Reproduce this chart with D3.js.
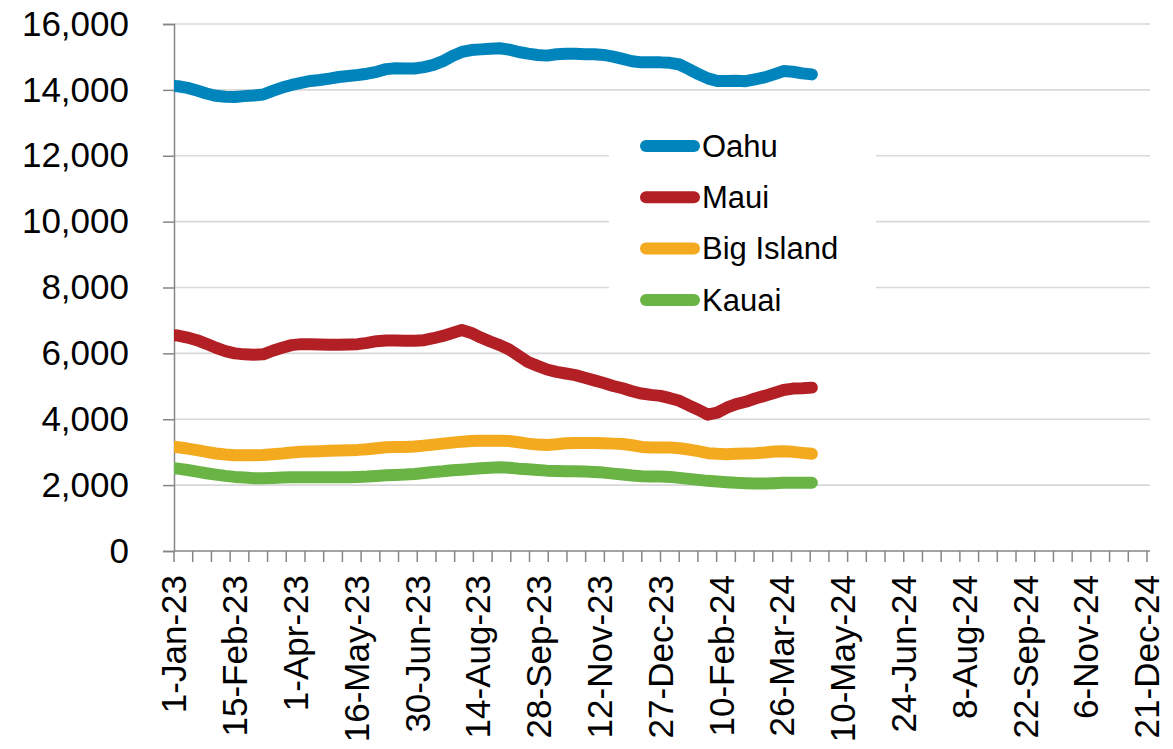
<!DOCTYPE html>
<html>
<head>
<meta charset="utf-8">
<script src="https://cdn.jsdelivr.net/npm/d3@7"></script>
<style>
  html, body { margin: 0; padding: 0; background: #fff; }
  svg { display: block; font-family: "Liberation Sans", Arial, sans-serif; }
</style>
</head>
<body>
<svg id="chart" width="1173" height="749"></svg>
<script>
// Weekly observations, first week ending 28-Dec-22
const firstWeek = "2022-12-28";
const weekCount = 69;

const seriesNames = ["Oahu", "Maui", "Big Island", "Kauai"];
const seriesColors = ["#0084bc", "#b22026", "#f4aa1e", "#6ab446"];

const oahu = [14130, 14110, 14060, 13980, 13890, 13820, 13790, 13785, 13810, 13830,
  13860, 13970, 14070, 14150, 14210, 14270, 14300, 14340, 14390, 14420,
  14450, 14490, 14550, 14630, 14655, 14650, 14650, 14690, 14760, 14870,
  15030, 15150, 15210, 15230, 15250, 15265, 15220, 15150, 15100, 15060,
  15040, 15080, 15100, 15100, 15085, 15080, 15060, 15010, 14940, 14870,
  14835, 14835, 14835, 14820, 14770, 14630, 14480, 14350, 14270, 14270,
  14275, 14265, 14320, 14380, 14470, 14570, 14550, 14500, 14470];

const maui = [6570, 6540, 6480, 6400, 6290, 6170, 6070, 6000, 5970, 5960,
  5970, 6080, 6170, 6250, 6280, 6280, 6270, 6260, 6260, 6270,
  6280, 6320, 6370, 6390, 6390, 6380, 6380, 6400, 6460, 6530,
  6620, 6710, 6620, 6480, 6360, 6250, 6120, 5930, 5740, 5620,
  5510, 5440, 5390, 5340, 5260, 5180, 5100, 5010, 4940, 4850,
  4780, 4740, 4710, 4640, 4560, 4420, 4290, 4140, 4200, 4350,
  4460, 4530, 4630, 4710, 4800, 4890, 4930, 4940, 4960];

const bigIsland = [3180, 3150, 3110, 3060, 3010, 2960, 2930, 2910, 2905, 2910,
  2915, 2940, 2960, 2990, 3010, 3020, 3030, 3040, 3050, 3060,
  3070, 3090, 3120, 3150, 3160, 3160, 3170, 3200, 3230, 3260,
  3290, 3320, 3340, 3345, 3350, 3350, 3340, 3300, 3260, 3230,
  3220, 3240, 3270, 3280, 3280, 3280, 3270, 3260, 3250, 3210,
  3160, 3140, 3140, 3140, 3120, 3080, 3030, 2970, 2950, 2940,
  2950, 2960, 2970, 2990, 3020, 3030, 3010, 2980, 2950];

const kauai = [2530, 2500, 2460, 2410, 2360, 2320, 2280, 2250, 2230, 2210,
  2210, 2220, 2230, 2240, 2240, 2240, 2240, 2240, 2240, 2240,
  2250, 2260, 2280, 2300, 2310, 2320, 2340, 2370, 2400, 2420,
  2450, 2470, 2490, 2510, 2530, 2540, 2530, 2500, 2480, 2460,
  2440, 2430, 2420, 2420, 2410, 2400, 2380, 2350, 2320, 2290,
  2270, 2260, 2260, 2250, 2220, 2190, 2160, 2130, 2110, 2090,
  2070, 2060, 2050, 2050, 2060, 2070, 2070, 2070, 2070];

// Axis settings
const xStart = "2023-01-01";
const xEnd = "2024-12-21";
const labelStepDays = 45;
const minorIntervals = 52;
const yTicks = [0, 2000, 4000, 6000, 8000, 10000, 12000, 14000, 16000];

const DAY = 86400000;
const parse = d3.utcParse("%Y-%m-%d");
const t0 = parse(firstWeek).getTime();
const dates = d3.range(weekCount).map(i => new Date(t0 + i * 7 * DAY));
const allSeries = [oahu, maui, bigIsland, kauai];

const svg = d3.select("#chart");
const plot = { left: 174, right: 1147, top: 24, bottom: 551, axisEnd: 1150 };

const x = d3.scaleUtc().domain([parse(xStart), parse(xEnd)]).range([plot.left, plot.right]);
const y = d3.scaleLinear().domain([0, 16000]).range([plot.bottom, plot.top]);

// Horizontal gridlines
svg.append("g")
  .selectAll("line")
  .data(yTicks.filter(v => v > 0))
  .join("line")
  .attr("x1", plot.left).attr("x2", plot.axisEnd)
  .attr("y1", d => y(d)).attr("y2", d => y(d))
  .attr("stroke", "#d9d9d9").attr("stroke-width", 1.6);

// Y axis
const fmt = d3.format(",");
const yAxis = svg.append("g").attr("transform", `translate(${plot.left},0)`)
  .call(d3.axisLeft(y).tickValues(yTicks).tickFormat(fmt).tickSize(11).tickPadding(34));
yAxis.select(".domain").attr("stroke", "#868686").attr("stroke-width", 1.5);
yAxis.selectAll(".tick line").attr("stroke", "#868686").attr("stroke-width", 1.5);
yAxis.selectAll(".tick text")
  .attr("fill", "#000").attr("font-size", 35).attr("font-family", "Liberation Sans, Arial, sans-serif");

// X axis: minor ticks and labelled dates
const s = parse(xStart).getTime(), e = parse(xEnd).getTime();
const minorTicks = d3.range(minorIntervals + 1).map(i => new Date(s + i * (e - s) / minorIntervals));
const labelTicks = d3.range(0, (e - s) / DAY + 1, labelStepDays).map(d => new Date(s + d * DAY));

const xg = svg.append("g").attr("transform", `translate(0,${plot.bottom})`);
xg.append("line")
  .attr("x1", plot.left).attr("x2", plot.axisEnd)
  .attr("stroke", "#868686").attr("stroke-width", 1.5);
xg.selectAll("line.minor")
  .data(minorTicks)
  .join("line").attr("class", "minor")
  .attr("x1", d => x(d)).attr("x2", d => x(d))
  .attr("y1", 0).attr("y2", 11)
  .attr("stroke", "#868686").attr("stroke-width", 1.5);

const labelFmt = d => `${d.getUTCDate()}-${d3.utcFormat("%b")(d)}-${d3.utcFormat("%y")(d)}`;
xg.selectAll("text")
  .data(labelTicks)
  .join("text")
  .attr("transform", d => `translate(${x(d)},24) rotate(-90)`)
  .attr("text-anchor", "end")
  .attr("dy", "0.35em")
  .attr("font-size", 35)
  .attr("fill", "#000")
  .text(labelFmt);

// Series lines, clipped to the plot area
svg.append("clipPath").attr("id", "plot-clip")
  .append("rect")
  .attr("x", plot.left).attr("y", 0)
  .attr("width", plot.axisEnd - plot.left).attr("height", plot.bottom);

const line = d3.line()
  .x((d, i) => x(dates[i]))
  .y(d => y(d));

svg.append("g").attr("clip-path", "url(#plot-clip)")
  .selectAll("path")
  .data(allSeries)
  .join("path")
  .attr("d", d => line(d))
  .attr("fill", "none")
  .attr("stroke", (d, i) => seriesColors[i])
  .attr("stroke-width", 12)
  .attr("stroke-linecap", "round")
  .attr("stroke-linejoin", "round");

// Legend
const legend = svg.append("g");
legend.append("rect")
  .attr("x", 609).attr("y", 118).attr("width", 267).attr("height", 208)
  .attr("fill", "#fff");
const items = legend.selectAll("g.item")
  .data(seriesNames)
  .join("g").attr("class", "item")
  .attr("transform", (d, i) => `translate(0,${146 + i * 51.3})`);
items.append("line")
  .attr("x1", 646).attr("x2", 694)
  .attr("stroke", (d, i) => seriesColors[i])
  .attr("stroke-width", 12)
  .attr("stroke-linecap", "round");
items.append("text")
  .attr("x", 702).attr("dy", "0.35em")
  .attr("font-size", 31).attr("fill", "#000")
  .text(d => d);
</script>
</body>
</html>
